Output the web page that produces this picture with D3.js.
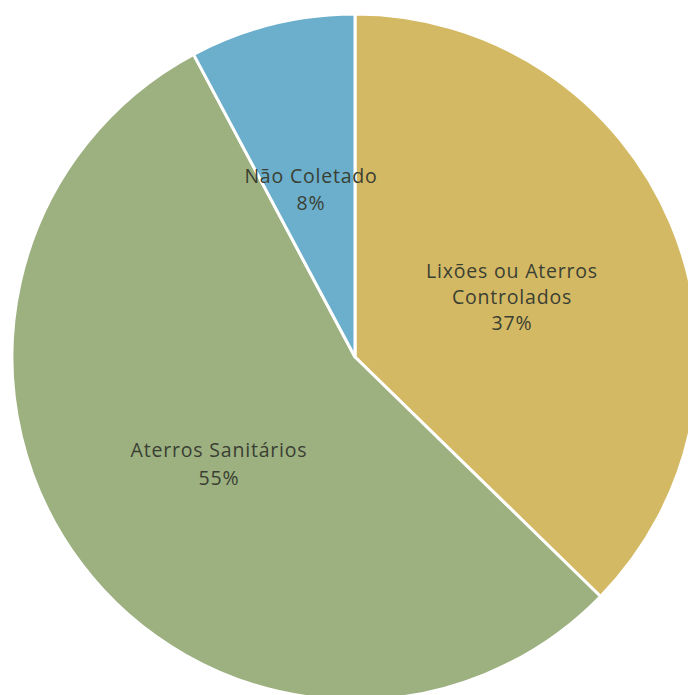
<!DOCTYPE html>
<html><head><meta charset="utf-8">
<script src="https://cdn.jsdelivr.net/npm/d3@7"></script>
<style>html,body{margin:0;padding:0;background:#fff;overflow:hidden}</style>
</head><body>
<svg id="chart" width="688" height="695"></svg>
<script>
const categories = ["Lixões ou Aterros Controlados", "Aterros Sanitários", "Não Coletado"];
const values = [37.3, 54.9, 7.8];
const percentLabels = ["37%", "55%", "8%"];
const labelLines = [["Lixões ou Aterros", "Controlados"], ["Aterros Sanitários"], ["Não Coletado"]];
const colors = ["#d4b964", "#9db180", "#6bafcc"];

const svg = d3.select("#chart");
const cx = 355, cy = 357, r = 343;
const g = svg.append("g").attr("transform", `translate(${cx},${cy})`);
const pie = d3.pie().sort(null).value(d => d)(values);
const arc = d3.arc().innerRadius(0).outerRadius(r);
g.selectAll("path").data(pie).join("path")
  .attr("d", arc)
  .attr("fill", (d, i) => colors[i])
  .attr("stroke", "#fff").attr("stroke-width", 3).attr("stroke-linejoin", "round");

// label anchor (center x, first baseline) relative to pie centre, and line gap
const labelPos = [[157, -79, 26], [-136, 100, 28], [-44, -174, 27]];
pie.forEach((d, i) => {
  const lines = labelLines[i].concat([percentLabels[i]]);
  const t = g.append("text")
    .attr("text-anchor", "middle")
    .attr("font-family", "'Open Sans', sans-serif")
    .attr("font-size", 19.5)
    .attr("letter-spacing", 0.8)
    .attr("fill", "#3a3f33");
  const [lx, ly, gap] = labelPos[i];
  lines.forEach((s, j) => {
    t.append("tspan").attr("x", lx).attr("y", ly + j * gap).text(s);
  });
});
</script>
</body></html>
